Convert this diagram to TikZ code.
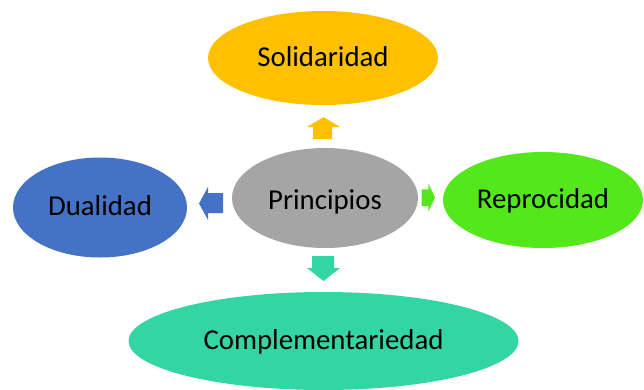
\documentclass[tikz,border=0pt]{standalone}
\usepackage{fontspec}
\setmainfont{Carlito}
\usetikzlibrary{shapes.geometric}
\definecolor{cyellow}{HTML}{FFC000}
\definecolor{cgray}{HTML}{A5A5A5}
\definecolor{cblue}{HTML}{4472C4}
\definecolor{cgreen}{HTML}{54E81C}
\definecolor{cteal}{HTML}{33D6A3}
\begin{document}
\begin{tikzpicture}[x=1pt,y=-1pt,
  blob/.style={ellipse,inner sep=0pt,outer sep=0pt,font=\fontsize{28.8}{32}\selectfont,text=black,text height=22pt,text depth=6pt},
  blockarrow/.style={draw=none}]
\useasboundingbox (0,0) rectangle (644,389);
\node[blob,fill=cyellow,minimum width=230,minimum height=94] (sol) at (323,58) {Solidaridad};
\node[blob,fill=cgray,minimum width=186,minimum height=100,text height=28pt] (pri) at (325,198) {Principios};
\node[blob,fill=cblue,minimum width=174,minimum height=100] (dua) at (100,207.5) {Dualidad};
\node[blob,fill=cgreen,minimum width=200,minimum height=96] (rep) at (543,200) {Reprocidad};
\node[blob,fill=cteal,minimum width=390,minimum height=98] (com) at (323.5,341) {Complementariedad};
% block arrows
\fill[cyellow] (313,139) -- (313,127) -- (307,127) -- (323.5,117) -- (340,127) -- (332,127) -- (332,139) -- cycle;
\fill[cblue] (223,193) -- (208,193) -- (208,187) -- (199,203.5) -- (208,220) -- (208,213) -- (223,213) -- cycle;
\fill[cgreen] (421.7,189.3) -- (428.3,189.3) -- (428.3,183.3) -- (435,197.5) -- (428.3,211.7) -- (428.3,206) -- (421.7,206) -- cycle;
\fill[cteal] (312,256) -- (334,256) -- (334,268) -- (340,268) -- (323.5,281) -- (307,268) -- (312,268) -- cycle;
\end{tikzpicture}
\end{document}
